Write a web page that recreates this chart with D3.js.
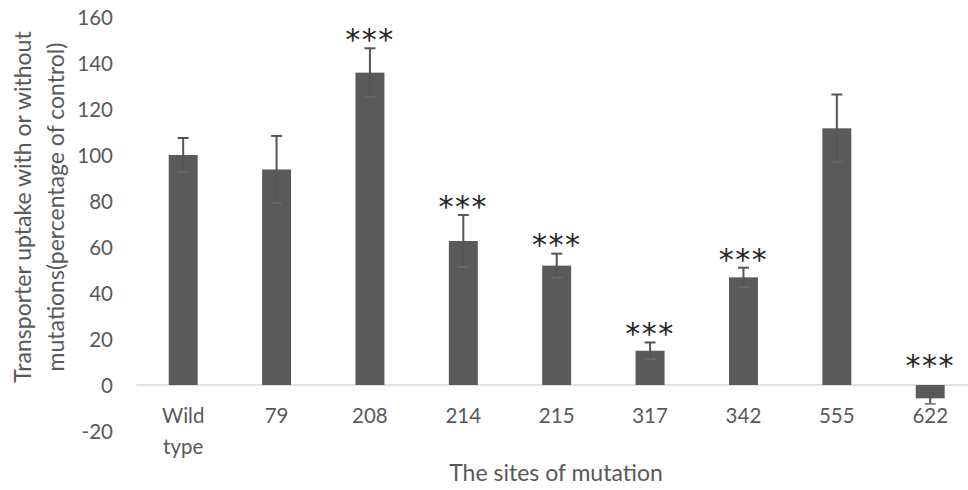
<!DOCTYPE html>
<html>
<head>
<meta charset="utf-8">
<script src="https://cdn.jsdelivr.net/npm/d3@7"></script>
<style>
  html, body { margin: 0; padding: 0; background: #ffffff; }
  svg { display: block; }
  text { font-family: Lato, "Noto Sans", sans-serif; }
</style>
</head>
<body>
<svg id="chart" width="968" height="490"></svg>
<script>
// Mutation sites (first entry wraps onto two lines)
const categories = ["Wild type", "79", "208", "214", "215", "317", "342", "555", "622"];
// Uptake, % of wild-type control
const uptake = [100, 93.7, 135.8, 62.6, 51.9, 14.9, 46.8, 111.6, -5.8];
// Symmetric error (± SD)
const errors = [7.4, 14.6, 10.6, 11.3, 5.2, 3.6, 4.2, 14.7, 2.4];
// Significance markers
const signif = ["", "", "***", "***", "***", "***", "***", "", "***"];
const yTicks = [-20, 0, 20, 40, 60, 80, 100, 120, 140, 160];

const svg = d3.select("#chart");
const W = 968, H = 490;

const x = d3.scaleBand()
  .domain(categories)
  .range([136.5, 976.9])
  .paddingInner(0.69)
  .paddingOuter(0.345);

const y = d3.scaleLinear().domain([-20, 160]).range([431, 17]);

const rows = categories.map((c, i) => ({ cat: c, v: uptake[i], e: errors[i], s: signif[i] }));

// Zero baseline
svg.append("line")
  .attr("x1", 136.5).attr("x2", W)
  .attr("y1", y(0)).attr("y2", y(0))
  .attr("stroke", "#d9d9d9").attr("stroke-width", 1.5);

// Y axis (labels only, plain hyphen for negatives)
const yAxis = d3.axisLeft(y).tickValues(yTicks).tickSize(0).tickPadding(0)
  .tickFormat(v => String(v));
const gy = svg.append("g").attr("transform", "translate(113,0)").call(yAxis);
gy.select(".domain").remove();
gy.selectAll("text")
  .attr("fill", "#595959")
  .style("font-size", "20.5px")
  .attr("dy", "0.35em");

// Bars
svg.append("g").selectAll("rect").data(rows).join("rect")
  .attr("x", d => x(d.cat))
  .attr("width", x.bandwidth())
  .attr("y", d => y(Math.max(0, d.v)))
  .attr("height", d => Math.abs(y(d.v) - y(0)))
  .attr("fill", "#5a5a5a");

// Error bars
const eb = svg.append("g").attr("stroke", "#555555").attr("stroke-width", 2).attr("fill", "none");
const cap = 5.5;
rows.forEach(d => {
  const cx = x(d.cat) + x.bandwidth() / 2;
  eb.append("line").attr("x1", cx).attr("x2", cx).attr("y1", y(d.v + d.e)).attr("y2", y(d.v - d.e));
  eb.append("line").attr("x1", cx - cap).attr("x2", cx + cap).attr("y1", y(d.v + d.e)).attr("y2", y(d.v + d.e));
  eb.append("line").attr("x1", cx - cap).attr("x2", cx + cap).attr("y1", y(d.v - d.e)).attr("y2", y(d.v - d.e))
    .attr("stroke", "#6a6a6a").attr("stroke-width", 1.5);
});

// Significance stars above each error bar
svg.append("g").selectAll("text").data(rows.filter(d => d.s)).join("text")
  .attr("x", d => x(d.cat) + x.bandwidth() / 2)
  .attr("y", d => d.v < 0 ? y(0) - 29 : y(d.v + d.e) - 18)
  .attr("dy", "0.66em")
  .attr("text-anchor", "middle")
  .attr("fill", "#262626")
  .style("font-family", "'DejaVu Sans', sans-serif")
  .style("font-size", "30px")
  .style("letter-spacing", "1.5px")
  .text(d => d.s);

// X category labels (wrapped onto lines)
const gx = svg.append("g");
rows.forEach(d => {
  const cx = x(d.cat) + x.bandwidth() / 2;
  const words = d.cat.split(" ");
  const t = gx.append("text")
    .attr("text-anchor", "middle")
    .attr("fill", "#595959")
    .style("font-size", "20.5px");
  words.forEach((w, k) => {
    t.append("tspan").attr("x", cx).attr("y", 416 + k * 30.5).attr("dy", "0.35em").text(w);
  });
});

// Axis titles
svg.append("text")
  .attr("x", 556).attr("y", 473).attr("dy", "0.35em")
  .attr("text-anchor", "middle")
  .attr("fill", "#595959")
  .style("font-size", "23px")
  .text("The sites of mutation");

const yt = svg.append("text")
  .attr("transform", "translate(0,207) rotate(-90)")
  .attr("text-anchor", "middle")
  .attr("fill", "#595959")
  .style("font-size", "23px");
yt.append("tspan").attr("x", 0).attr("y", 23).attr("dy", "0.35em").text("Transporter uptake with or without");
yt.append("tspan").attr("x", 0).attr("y", 56).attr("dy", "0.35em").text("mutations(percentage of control)");
</script>
</body>
</html>
